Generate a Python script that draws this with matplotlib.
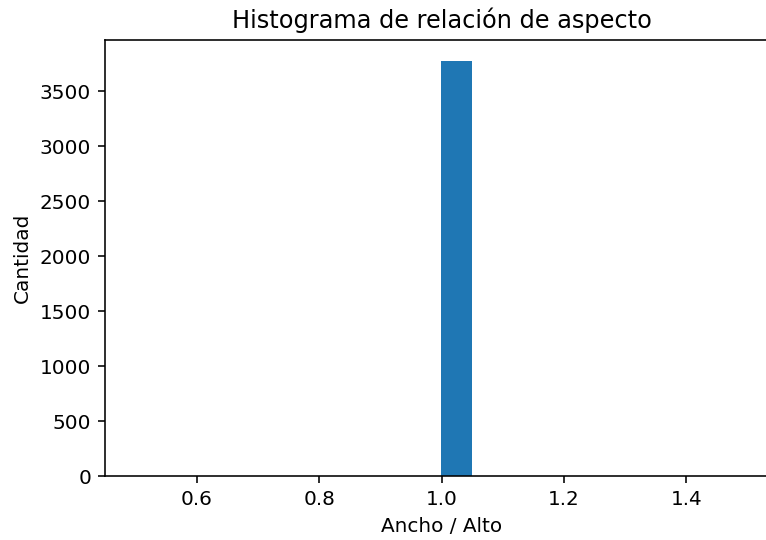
import numpy as np
import matplotlib
matplotlib.use("Agg")
import matplotlib.pyplot as plt

# Aspect ratio values (all images are square: width/height = 1.0)
ratio_values = [1.0]
ratio_counts = [3775]
n_bins = 20

data = np.repeat(ratio_values, ratio_counts)

dpi = 144
fig = plt.figure(figsize=(766 / dpi, 540 / dpi), dpi=dpi)
W, H = 766, 540
ax = fig.add_axes([105 / W, (H - 476) / H, (778 - 105) / W, (476 - 40) / H])
ax.hist(data, bins=n_bins, color="#1f77b4")
ax.set_title("Histograma de relación de aspecto")
ax.set_xlabel("Ancho / Alto")
ax.set_ylabel("Cantidad")
fig.savefig("out.png", dpi=dpi)
